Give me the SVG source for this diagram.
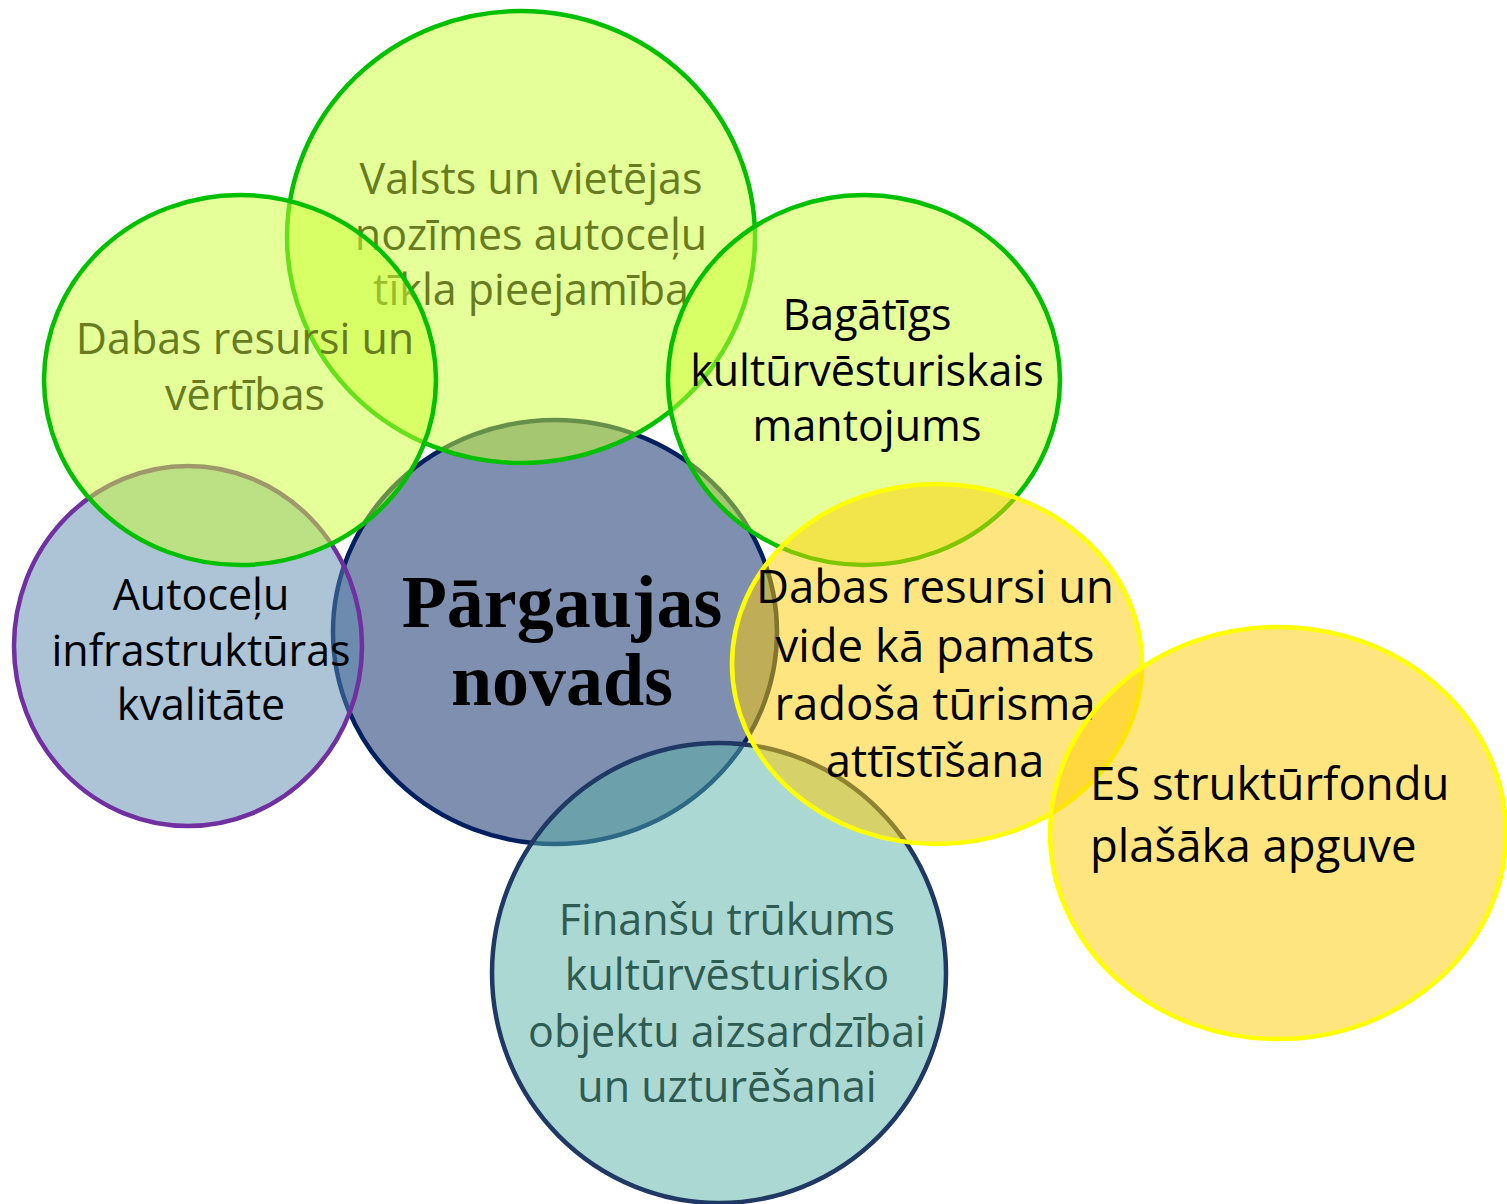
<svg xmlns="http://www.w3.org/2000/svg" width="1507" height="1204" viewBox="0 0 1507 1204">
<style>
.sh{stroke-width:4.5}
.g{fill:#ccff33;fill-opacity:.5;stroke:#00c000}
.y{fill:#ffcc00;fill-opacity:.5;stroke:#ffff00}
.t{font-family:"Open Sans","Noto Sans","DejaVu Sans",sans-serif;font-size:43px;text-anchor:middle;fill:#000}
.ol{fill:#677c1e}
.tl{fill:#2e5b52}
.big{font-family:"Liberation Serif","Times New Roman",serif;font-weight:bold;font-size:74px;text-anchor:middle;fill:#000}
</style>
<rect width="1507" height="1204" fill="#fff"/>
<g id="center">
<ellipse class="sh" cx="555" cy="632" rx="222" ry="212" fill="#002060" fill-opacity=".5" stroke="#002060"/>
<text class="big" x="562" y="627">Pārgaujas</text>
<text class="big" x="562" y="705">novads</text>
</g>
<g id="autocelu">
<ellipse class="sh" cx="188" cy="646" rx="174" ry="180" fill="#5b87ad" fill-opacity=".5" stroke="#7030a0"/>
<text class="t" x="201" y="610">Autoceļu</text>
<text class="t" x="201" y="666">infrastruktūras</text>
<text class="t" x="201" y="720">kvalitāte</text>
</g>
<g id="valsts">
<ellipse class="sh g" cx="521" cy="237" rx="234" ry="226"/>
<text class="t ol" x="531" y="194">Valsts un vietējas</text>
<text class="t ol" x="531" y="250">nozīmes autoceļu</text>
<text class="t ol" x="531" y="305">tīkla pieejamība</text>
</g>
<g id="dabas-vertibas">
<ellipse class="sh g" cx="240" cy="380" rx="196" ry="185"/>
<text class="t ol" x="245" y="354">Dabas resursi un</text>
<text class="t ol" x="245" y="410">vērtības</text>
</g>
<g id="bagatigs">
<ellipse class="sh g" cx="864" cy="380" rx="196" ry="185"/>
<text class="t" x="867" y="330">Bagātīgs</text>
<text class="t" x="867" y="386">kultūrvēsturiskais</text>
<text class="t" x="867" y="441">mantojums</text>
</g>
<g id="finansu">
<ellipse class="sh" cx="719" cy="973" rx="227" ry="230" fill="#5ab1a8" fill-opacity=".5" stroke="#1f3864"/>
<text class="t tl" x="727" y="935">Finanšu trūkums</text>
<text class="t tl" x="727" y="990">kultūrvēsturisko</text>
<text class="t tl" x="727" y="1047">objektu aizsardzībai</text>
<text class="t tl" x="727" y="1102">un uzturēšanai</text>
</g>
<g id="dabas-vide">
<ellipse class="sh y" cx="937" cy="664" rx="205" ry="180"/>
<text class="t" x="935" y="603" style="font-size:45.5px">Dabas resursi un</text>
<text class="t" x="935" y="662" style="font-size:45.5px">vide kā pamats</text>
<text class="t" x="935" y="720" style="font-size:45.5px">radoša tūrisma</text>
<text class="t" x="935" y="777" style="font-size:45.5px">attīstīšana</text>
</g>
<g id="es">
<ellipse class="sh y" cx="1278" cy="833" rx="228" ry="206"/>
<text class="t" x="1090" y="800" style="text-anchor:start;font-size:45.5px">ES struktūrfondu</text>
<text class="t" x="1090" y="862" style="text-anchor:start;font-size:45.5px">plašāka apguve</text>
</g>
<g id="connectors"></g>
</svg>
